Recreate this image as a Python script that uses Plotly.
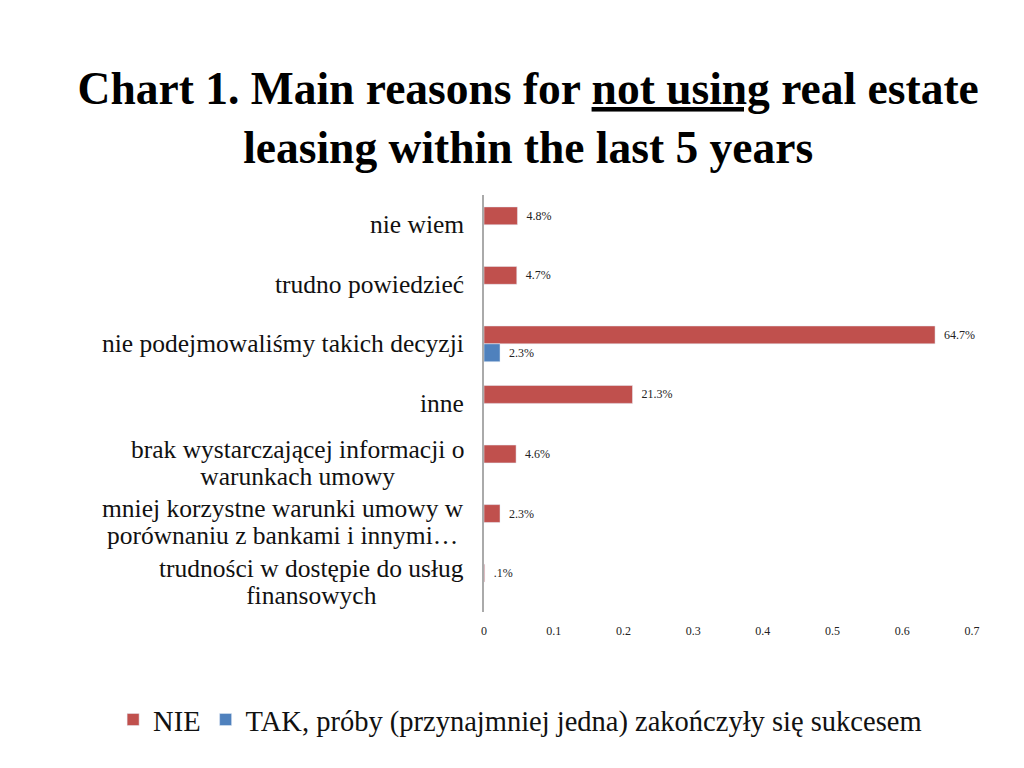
import plotly.graph_objects as go

# categories listed top to bottom as in the chart
categories = [
    "nie wiem",
    "trudno powiedzieć",
    "nie podejmowaliśmy takich decyzji",
    "inne",
    "brak wystarczającej informacji o<br>warunkach umowy",
    "mniej korzystne warunki umowy w<br>porównaniu z bankami i innymi…",
    "trudności w dostępie do usług<br>finansowych",
]
nie_values = [0.048, 0.047, 0.647, 0.213, 0.046, 0.023, 0.001]
nie_labels = ["4.8%", "4.7%", "64.7%", "21.3%", "4.6%", "2.3%", ".1%"]
tak_values = [None, None, 0.023, None, None, None, None]
tak_labels = ["", "", "2.3%", "", "", "", ""]
x_ticks = [0, 0.1, 0.2, 0.3, 0.4, 0.5, 0.6, 0.7]

SERIF = "Liberation Serif"
RED = "#C0504D"
BLUE = "#4F81BD"
PAD = "\u00a0\u00a0"  # small gap between bar end and its value label

fig = go.Figure()
fig.add_trace(
    go.Bar(
        y=categories,
        x=nie_values,
        orientation="h",
        name="NIE",
        marker_color=RED,
        text=[PAD + t for t in nie_labels],
        textposition="outside",
        textfont=dict(family=SERIF, size=12, color="#222"),
        cliponaxis=False,
    )
)
fig.add_trace(
    go.Bar(
        y=categories,
        x=tak_values,
        orientation="h",
        name="TAK, próby (przynajmniej jedna) zakończyły się sukcesem",
        marker_color=BLUE,
        text=[PAD + t if t else "" for t in tak_labels],
        textposition="outside",
        textfont=dict(family=SERIF, size=12, color="#222"),
        cliponaxis=False,
    )
)

# category labels as annotations so wrapped lines can be centred;
# base size 21 keeps the line spacing tight, the spans enlarge the glyphs
for cat in categories:
    lines = cat.split("<br>")
    label = "<br>".join(f"<span style='font-size:25.5px'>{ln}</span>" for ln in lines)
    fig.add_annotation(
        x=0,
        xref="paper",
        y=cat,
        yref="y",
        text=label,
        showarrow=False,
        xanchor="right",
        xshift=-18,
        align="center",
        font=dict(family=SERIF, size=21, color="#111"),
    )

# page body adds an 8px offset, so margins are shifted to compensate
fig.update_layout(
    width=1024,
    height=768,
    margin=dict(l=476, r=60, t=187, b=164),
    font=dict(family=SERIF),
    paper_bgcolor="white",
    plot_bgcolor="white",
    barmode="group",
    bargap=0.4,
    bargroupgap=0,
    title=dict(
        text="<b>Chart 1. Main reasons for <u>not using</u> real estate<br>leasing within the last 5 years</b>",
        x=0.508,
        xanchor="center",
        y=0.875,
        yanchor="middle",
        font=dict(family=SERIF, size=45.5, color="black"),
    ),
    legend=dict(
        orientation="h",
        x=-0.76,
        xanchor="left",
        y=-0.259,
        yanchor="middle",
        font=dict(family=SERIF, size=28.5, color="#111"),
        itemwidth=30,
        traceorder="normal",
    ),
    xaxis=dict(
        range=[0, 0.7],
        tickvals=x_ticks,
        ticktext=[str(t) for t in x_ticks],
        showgrid=False,
        zeroline=False,
        showline=False,
        ticks="outside",
        ticklen=8,
        tickcolor="rgba(0,0,0,0)",
        tickfont=dict(family=SERIF, size=12, color="#222"),
    ),
    yaxis=dict(
        autorange="reversed",
        showticklabels=False,
        showgrid=False,
        showline=True,
        linecolor="#AAAAAA",
        linewidth=1.5,
        ticks="",
    ),
)

fig.write_html("out.html")
